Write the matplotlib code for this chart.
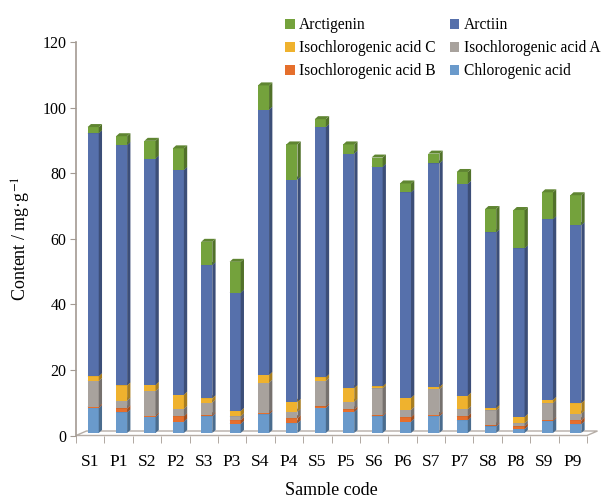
import matplotlib
matplotlib.use("Agg")
import matplotlib.pyplot as plt
from matplotlib.patches import Polygon, Patch
from matplotlib.transforms import ScaledTranslation
import numpy as np

plt.rcParams['font.family'] = ['Liberation Serif', 'DejaVu Serif']
plt.rcParams['mathtext.fontset'] = 'stix'

samples = ['S1', 'P1', 'S2', 'P2', 'S3', 'P3', 'S4', 'P4', 'S5',
           'P5', 'S6', 'P6', 'S7', 'P7', 'S8', 'P8', 'S9', 'P9']

# contents in mg/g, bottom to top of each stack
chlorogenic = [7.6, 6.3, 4.9, 3.5, 5.1, 2.8, 5.7, 3.0, 7.7,
               6.4, 5.1, 3.5, 5.1, 3.9, 2.0, 1.2, 3.6, 2.7]
iso_b = [0.4, 1.2, 0.4, 1.6, 0.3, 1.1, 0.4, 1.5, 0.4,
         0.8, 0.3, 1.3, 0.4, 1.2, 0.3, 0.8, 0.3, 1.2]
iso_a = [7.9, 2.4, 7.5, 2.3, 3.9, 1.2, 9.3, 2.0, 7.8,
         2.3, 8.2, 2.3, 7.9, 2.2, 4.6, 1.0, 5.2, 2.0]
iso_c = [1.4, 4.6, 1.9, 4.3, 1.3, 1.6, 2.3, 3.0, 1.1,
         4.2, 0.6, 3.6, 0.6, 4.1, 0.7, 1.9, 1.0, 3.2]
arctiin = [74.1, 73.3, 69.0, 68.5, 40.6, 36.1, 80.9, 67.8, 76.3,
           71.5, 67.0, 62.7, 68.2, 64.6, 53.6, 51.4, 55.1, 54.3]
arctigenin = [1.9, 2.7, 5.4, 6.6, 7.1, 9.4, 7.4, 10.7, 2.4,
              2.8, 2.8, 2.7, 3.0, 3.6, 7.1, 11.7, 8.2, 9.1]

series = [
    ('Chlorogenic acid', chlorogenic, '#6A9ACB'),
    ('Isochlorogenic acid B', iso_b, '#E56F2C'),
    ('Isochlorogenic acid A', iso_a, '#A8A29D'),
    ('Isochlorogenic acid C', iso_c, '#EFB22E'),
    ('Arctiin', arctiin, '#5670AB'),
    ('Arctigenin', arctigenin, '#74A23C'),
]


def shade(c, f):
    rgb = np.array(matplotlib.colors.to_rgb(c))
    return tuple(rgb * f)


fig = plt.figure(figsize=(6.08, 4.95), dpi=100)
ax = fig.add_axes([76 / 608, 1 - 435.5 / 495, 511 / 608, 393.5 / 495])
ax.set_xlim(-0.5, len(samples) - 0.5)
ax.set_ylim(0, 120)

# pixel size of one data unit, used for the fake 3D depth
px_x = ax.bbox.width / len(samples)
px_y = ax.bbox.height / 120
dx = 3.3 / px_x
dy = 3.0 / px_y

# bars sit a bit behind the front edge of the floor
shift = ax.transData + ScaledTranslation(3.0 / 100, 2.5 / 100, fig.dpi_scale_trans)

x = np.arange(len(samples))
w = 0.39
bottom = np.zeros(len(samples))
for name, vals, col in series:
    vals = np.array(vals)
    ax.bar(x, vals, w, bottom=bottom, color=col, transform=shift,
           zorder=3, clip_on=False)
    for i in range(len(samples)):
        x0 = x[i] - w / 2
        x1 = x[i] + w / 2
        b = bottom[i]
        t = b + vals[i]
        side = Polygon([(x1, b), (x1 + dx, b + dy), (x1 + dx, t + dy), (x1, t)],
                       closed=True, facecolor=shade(col, 0.7), edgecolor='none',
                       transform=shift, zorder=3, clip_on=False)
        top = Polygon([(x0, t), (x0 + dx, t + dy), (x1 + dx, t + dy), (x1, t)],
                      closed=True, facecolor=shade(col, 0.82), edgecolor='none',
                      transform=shift, zorder=3, clip_on=False)
        ax.add_patch(side)
        ax.add_patch(top)
    bottom = bottom + vals

# floor
fdx = 10.5 / px_x
fdy = 4.5 / px_y
xa, xb = -0.5, len(samples) - 0.5
floor = Polygon([(xa, 0), (xb, 0), (xb + fdx, fdy), (xa + fdx, fdy)], closed=True,
                facecolor='white', edgecolor='#B5ADA6', lw=1.0, zorder=1, clip_on=False)
ax.add_patch(floor)

for s in ['top', 'right', 'bottom']:
    ax.spines[s].set_visible(False)
ax.spines['left'].set_color('#A39A92')
ax.spines['left'].set_linewidth(1.2)

ax.set_yticks(range(0, 121, 20))
ax.tick_params(axis='y', length=4, color='#A39A92', labelsize=11.5, pad=3)
ax.set_xticks(x)
ax.set_xticklabels(samples)
ax.set_xticks(np.arange(-0.5, len(samples), 1), minor=True)
ax.tick_params(axis='x', which='major', length=0, labelsize=12.5, pad=13)
ax.tick_params(axis='x', which='minor', length=5, color='#A39A92')

ax.set_xlabel('Sample code', fontsize=13, labelpad=9)
ax.set_ylabel('Content / mg·g$^{-1}$', fontsize=13, labelpad=7)

# legend, filled row by row like the original
order = [5, 3, 1, 4, 2, 0]
handles = [Patch(facecolor=series[k][2], edgecolor='none') for k in order]
labels = [series[k][0] for k in order]
fig.legend(handles, labels, ncol=2, frameon=False, fontsize=11.2,
           loc='upper left', bbox_to_anchor=(279 / 608, 1 - 11 / 495),
           handlelength=0.6, handleheight=0.6, handletextpad=0.3,
           columnspacing=0.9, labelspacing=0.45, borderaxespad=0)

fig.savefig('out.png', dpi=100)
